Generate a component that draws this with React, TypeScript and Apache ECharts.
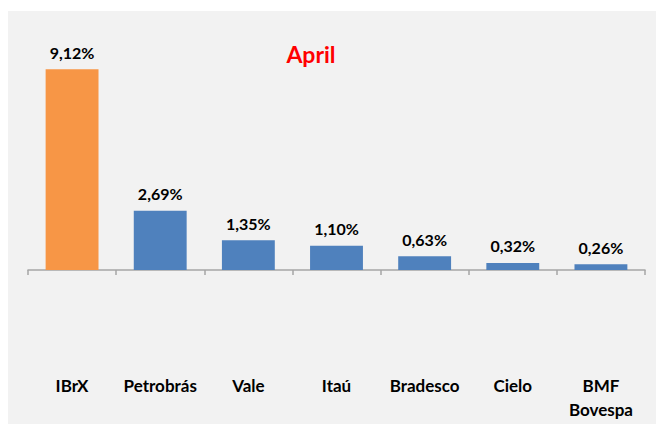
import React, { useEffect, useRef } from "react";
import * as echarts from "echarts";

const categories = ["IBrX", "Petrobrás", "Vale", "Itaú", "Bradesco", "Cielo", "BMF\nBovespa"];
const values = [9.12, 2.69, 1.35, 1.1, 0.63, 0.32, 0.26];
const barColors = ["#F79646", "#4F81BD", "#4F81BD", "#4F81BD", "#4F81BD", "#4F81BD", "#4F81BD"];
const titleText = "April";

export default function App() {
  const ref = useRef<HTMLDivElement>(null);
  useEffect(() => {
    document.body.style.margin = "0";
    const chart = echarts.init(ref.current!, null, { renderer: "svg" });
    const font = "Lato, 'Noto Sans', sans-serif";
    chart.setOption({
      animation: false,
      backgroundColor: "#ffffff",
      graphic: [
        {
          type: "rect",
          z: -10,
          silent: true,
          shape: { x: 8, y: 11, width: 660, height: 420 },
          style: { fill: "#F2F2F2" },
        },
      ],
      title: {
        text: titleText,
        left: 310,
        top: 37,
        textAlign: "center",
        textStyle: { color: "#FF0000", fontSize: 23, fontWeight: "bold", fontFamily: font },
      },
      grid: { left: 28, right: 11, top: 50, bottom: 66, containLabel: false, outerBoundsMode: "none" },
      xAxis: {
        type: "category",
        data: categories,
        axisLine: { onZero: true, lineStyle: { color: "#A6A6A6", width: 1.5 } },
        axisTick: { show: true, length: 5, lineStyle: { color: "#A6A6A6", width: 1.5 } },
        axisLabel: {
          margin: 15,
          color: "#000000",
          fontSize: 17,
          fontWeight: "bold",
          fontFamily: font,
          lineHeight: 24,
          interval: 0,
        },
      },
      yAxis: {
        type: "value",
        min: -4,
        max: 10,
        show: false,
        splitLine: { show: false },
      },
      series: [
        {
          type: "bar",
          barWidth: "60%",
          data: values.map((v, i) => ({ value: v, itemStyle: { color: barColors[i] } })),
          label: {
            show: true,
            position: "top",
            distance: 9,
            color: "#000000",
            fontSize: 16,
            fontWeight: "bold",
            fontFamily: font,
            formatter: (p: any) => p.value.toFixed(2).replace(".", ",") + "%",
          },
        },
      ],
    });
    chart.setOption({ title: { left: 306 } });
    return () => chart.dispose();
  }, []);
  return <div ref={ref} style={{ width: 656, height: 424 }} />;
}
